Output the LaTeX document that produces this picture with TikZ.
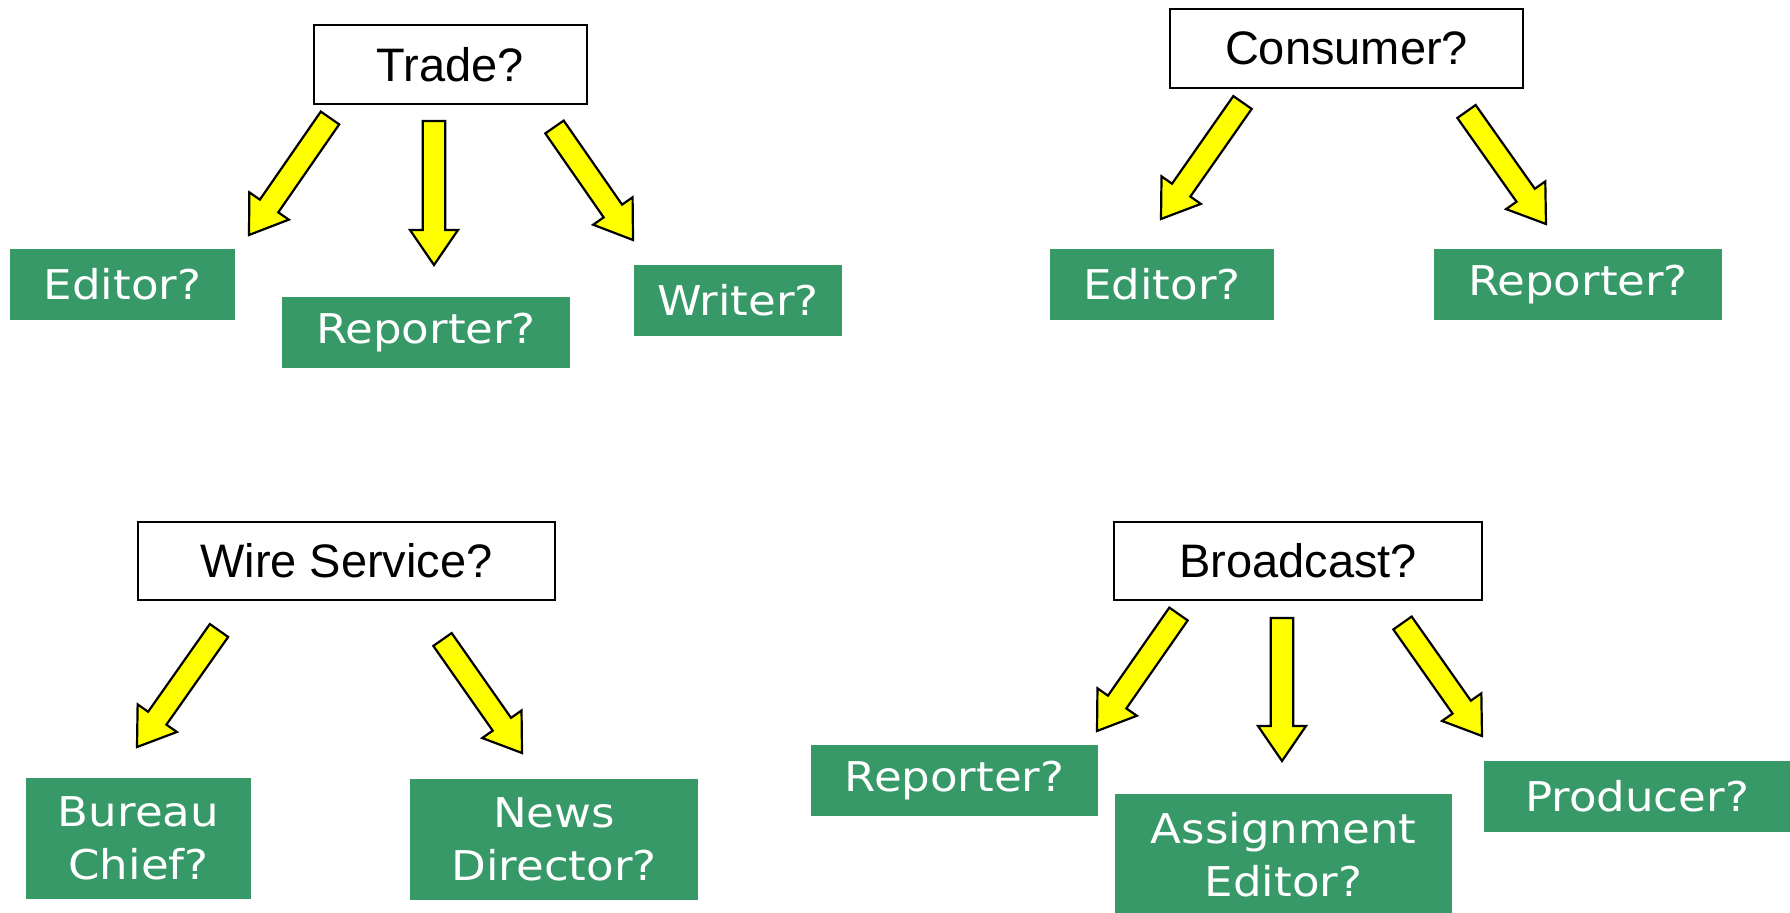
\documentclass[tikz,border=0pt]{standalone}
\usepackage{fontspec}
\setmainfont{Liberation Sans}
\newfontfamily\rolefont[FakeStretch=1.1]{DejaVu Sans}
\usetikzlibrary{calc}
\definecolor{rolegreen}{RGB}{55,153,104}
\definecolor{arrowyellow}{RGB}{255,255,0}

% thick yellow block arrow from tail #1 to tip #2
\newcommand{\blockarrow}[2]{%
  \draw[blockarr] let \p1=(#1), \p2=(#2), \n1={atan2(\y2-\y1,\x2-\x1)}, \n2={veclen(\x2-\x1,\y2-\y1)} in
    ($(#1)+(\n1+90:5.6pt)$) -- ($(#1)+(\n1:{\n2-17.5pt})+(\n1+90:5.6pt)$)
    -- ($(#1)+(\n1:{\n2-17.5pt})+(\n1+90:12pt)$) -- (#2)
    -- ($(#1)+(\n1:{\n2-17.5pt})+(\n1-90:12pt)$) -- ($(#1)+(\n1:{\n2-17.5pt})+(\n1-90:5.6pt)$)
    -- ($(#1)+(\n1-90:5.6pt)$) -- cycle;}

\begin{document}
\begin{tikzpicture}[x=0.5pt, y=-0.5pt,
        ask/.style={draw, line width=1pt, fill=white, inner sep=0pt, font=\fontsize{23.5}{28}\selectfont},
        role/.style={fill=rolegreen, text=white, inner sep=0pt, align=center, font=\rolefont\fontsize{20.5}{26.5}\selectfont},
        blockarr/.style={draw=black, fill=arrowyellow, line width=1.1pt, line join=miter}
    ]
        \useasboundingbox (0,0) rectangle (1790,913);

        % Trade
        \node[ask, minimum width=136.5pt, minimum height=39.5pt] (trade) at (450.5,64.5) {Trade?};
        \node[role, minimum width=112.5pt, minimum height=35.5pt] (te) at (122.5,284.5) {Editor?};
        \node[role, minimum width=144pt, minimum height=35.5pt] (tr) at (426,332.5) {Reporter?};
        \node[role, minimum width=104pt, minimum height=35.5pt] (tw) at (738,300.5) {Writer?};
        \coordinate (t1s) at (330,118);   \coordinate (t1e) at (249,235);
        \coordinate (t2s) at (434,121);   \coordinate (t2e) at (434,265);
        \coordinate (t3s) at (554.5,127); \coordinate (t3e) at (633,240);
        \blockarrow{t1s}{t1e}
        \blockarrow{t2s}{t2e}
        \blockarrow{t3s}{t3e}

        % Consumer
        \node[ask, minimum width=176.5pt, minimum height=39.5pt] (consumer) at (1346.5,48.5) {Consumer?};
        \node[role, minimum width=112pt, minimum height=35.5pt] (ce) at (1162,284.5) {Editor?};
        \node[role, minimum width=144pt, minimum height=35.5pt] (cr) at (1578,284.5) {Reporter?};
        \coordinate (c1s) at (1242.5,102.5); \coordinate (c1e) at (1161,219);
        \coordinate (c2s) at (1466.5,111.5); \coordinate (c2e) at (1546,224);
        \blockarrow{c1s}{c1e}
        \blockarrow{c2s}{c2e}

        % Wire Service
        \node[ask, minimum width=208.5pt, minimum height=39pt] (wire) at (346.5,561) {Wire Service?};
        \node[role, minimum width=112.5pt, minimum height=60.5pt] (wb) at (138.5,838.5) {Bureau\\Chief?};
        \node[role, minimum width=144pt, minimum height=60.5pt] (wn) at (554,839.5) {News\\Director?};
        \coordinate (w1s) at (219,630.5);   \coordinate (w1e) at (137,747);
        \coordinate (w2s) at (442.5,639.5); \coordinate (w2e) at (522,753);
        \blockarrow{w1s}{w1e}
        \blockarrow{w2s}{w2e}

        % Broadcast
        \node[ask, minimum width=184pt, minimum height=39pt] (broadcast) at (1298,561) {Broadcast?};
        \node[role, minimum width=143.5pt, minimum height=35.5pt] (br) at (954.5,780.5) {Reporter?};
        \node[role, minimum width=168.5pt, minimum height=60.5pt] (ba) at (1283.5,854.5) {Assignment\\Editor?};
        \node[role, minimum width=153pt, minimum height=35.5pt] (bp) at (1637,796.5) {Producer?};
        \coordinate (b1s) at (1178.5,614); \coordinate (b1e) at (1097,731);
        \coordinate (b2s) at (1282,618);   \coordinate (b2e) at (1282,761);
        \coordinate (b3s) at (1402.5,623); \coordinate (b3e) at (1482,736);
        \blockarrow{b1s}{b1e}
        \blockarrow{b2s}{b2e}
        \blockarrow{b3s}{b3e}
    \end{tikzpicture}
\end{document}
